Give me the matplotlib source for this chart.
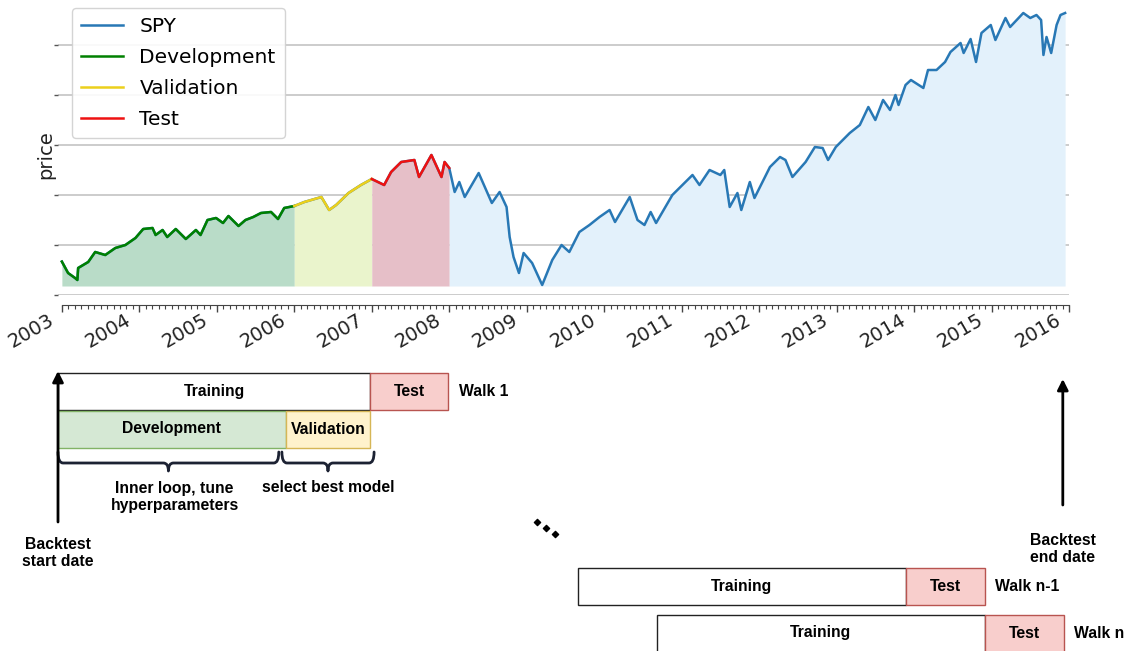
import matplotlib.pyplot as plt
from matplotlib.path import Path
from matplotlib.patches import PathPatch
from matplotlib.ticker import MultipleLocator
from matplotlib.transforms import ScaledTranslation


# SPY price (decimal year, price)
dates = [2003.00, 2003.08, 2003.17, 2003.20, 2003.21, 2003.34, 2003.43, 2003.56, 2003.69, 2003.82, 2003.95,
         2004.05, 2004.17, 2004.21, 2004.30, 2004.36, 2004.47, 2004.60, 2004.73, 2004.79, 2004.88, 2004.99,
         2005.08, 2005.15, 2005.28, 2005.37, 2005.47, 2005.57, 2005.70, 2005.79, 2005.87, 2006.00,
         2006.13, 2006.35, 2006.45, 2006.54, 2006.70, 2006.86, 2007.00,
         2007.16, 2007.25, 2007.38, 2007.55, 2007.61, 2007.77, 2007.90, 2007.94, 2008.00,
         2008.07, 2008.13, 2008.20, 2008.38, 2008.46, 2008.55, 2008.65, 2008.74, 2008.78, 2008.83, 2008.90, 2008.96,
         2009.07, 2009.20, 2009.33, 2009.45, 2009.55, 2009.68, 2009.81, 2009.94,
         2010.07, 2010.14, 2010.33, 2010.43, 2010.52, 2010.60, 2010.67, 2010.88,
         2011.14, 2011.23, 2011.36, 2011.50, 2011.55, 2011.62, 2011.72, 2011.77, 2011.88, 2011.94,
         2012.14, 2012.27, 2012.34, 2012.43, 2012.60, 2012.72, 2012.82, 2012.89, 2012.99,
         2013.17, 2013.30, 2013.41, 2013.50, 2013.60, 2013.69, 2013.76, 2013.80, 2013.89, 2013.96,
         2014.12, 2014.18, 2014.29, 2014.40, 2014.47, 2014.60, 2014.64, 2014.73, 2014.80, 2014.87, 2014.99,
         2015.05, 2015.18, 2015.24, 2015.41, 2015.50, 2015.58, 2015.64, 2015.67, 2015.71, 2015.77, 2015.84,
         2015.89, 2015.95]
prices = [66.7, 61.0, 58.5, 57.5, 63.5, 66.5, 71.5, 70.0, 73.5, 75.0, 78.5,
          83.0, 83.5, 80.0, 82.5, 79.0, 83.0, 78.0, 82.5, 80.0, 87.5, 88.5,
          86.0, 89.5, 84.5, 87.5, 89.0, 91.0, 91.5, 88.0, 93.5, 94.5,
          96.5, 99.0, 92.5, 95.0, 101.0, 105.0, 108.0,
          105.0, 111.5, 116.5, 117.5, 109.0, 120.0, 109.0, 116.5, 113.5,
          101.5, 106.5, 99.0, 111.0, 104.0, 96.0, 101.5, 94.0, 79.0, 69.0, 61.0, 71.0,
          66.0, 55.0, 67.5, 75.0, 71.5, 81.5, 85.0, 89.0,
          92.5, 86.5, 99.0, 87.5, 85.0, 91.5, 86.0, 100.0,
          110.0, 105.0, 112.5, 110.0, 112.5, 94.0, 101.0, 92.5, 106.5, 98.5,
          114.0, 119.0, 117.5, 109.0, 116.5, 124.0, 123.5, 117.5, 124.0,
          131.0, 135.0, 144.0, 137.5, 147.5, 142.5, 150.0, 145.0, 155.0, 157.5,
          153.5, 162.5, 162.5, 166.5, 171.5, 176.0, 171.0, 178.0, 166.5, 181.0, 185.0,
          177.5, 188.5, 184.0, 191.0, 188.5, 190.0, 187.5, 170.0, 179.0, 171.0, 185.0,
          190.0, 191.0]

val_start, test_start, test_end = 2006.0, 2007.0, 2008.0
fill_base = 54.5
year_ticks = list(range(2003, 2017))
price_grid = [50, 75, 100, 125, 150, 175]

# walk-forward schematic (decimal years)
walk_names = ['Walk 1', 'Walk n-1', 'Walk n']
walk_train_start = [2002.95, 2009.66, 2010.68]
walk_test_start = [2006.98, 2013.89, 2014.91]
walk_test_end = [2007.99, 2014.91, 2015.93]
dev_end = 2005.89
backtest_start, backtest_end = 2002.95, 2015.92


def segment(lo, hi):
    idx = [i for i, d in enumerate(dates) if lo <= d <= hi]
    return [dates[i] for i in idx], [prices[i] for i in idx]


def brace(ax, x0, x1, y0, y1, tip):
    r = 5 / 77.5
    xm = (x0 + x1) / 2
    verts = [(x0, y0), (x0, y1), (x0 + r, y1), (xm - r, y1), (xm, y1), (xm, tip),
             (xm, y1), (xm + r, y1), (x1 - r, y1), (x1, y1), (x1, y0)]
    codes = [Path.MOVETO, Path.CURVE3, Path.CURVE3, Path.LINETO, Path.CURVE3, Path.CURVE3,
             Path.CURVE3, Path.CURVE3, Path.LINETO, Path.CURVE3, Path.CURVE3]
    ax.add_patch(PathPatch(Path(verts, codes), fill=False, lw=2, ec='#1c2233',
                           capstyle='round', joinstyle='round', clip_on=False))


W, H = 1135, 651
fig = plt.figure(figsize=(W / 100, H / 100), dpi=100)

# ---- price chart ----
ax = fig.add_axes([58 / W, 1 - 295 / H, 1011 / W, 292 / H])

# spines first: set_position resets the ticks
for s in ['top', 'right', 'left']:
    ax.spines[s].set_visible(False)
ax.spines['bottom'].set_position(('outward', 7))
ax.spines['bottom'].set_bounds(2003, 2016)
ax.spines['bottom'].set_color('#444444')

ax.plot(dates, prices, color='#2878b5', lw=1.8, label='SPY', zorder=3)
segs = [(2003.0, val_start, 'green', '#b9dcc8', 'Development'),
        (val_start, test_start, '#ecd01c', '#eaf4cc', 'Validation'),
        (test_start, test_end, '#ee1111', '#e6bfc8', 'Test')]
for lo, hi, lc, fc, name in segs:
    x, y = segment(lo, hi)
    ax.plot(x, y, color=lc, lw=1.8, label=name, zorder=4)
    ax.fill_between(x, fill_base, y, color=fc, lw=0, zorder=1)
x, y = segment(test_end, 2100)
ax.fill_between(x, fill_base, y, color='#e3f1fb', lw=0, zorder=1)

ax.set_xlim(2002.95, 2016.0)
ax.set_ylim(50, 196)
ax.set_xticks(year_ticks)
ax.xaxis.set_minor_locator(MultipleLocator(1 / 12))
ax.tick_params(axis='x', which='major', length=5, width=1, color='#444444', pad=-1,
               labelsize=14, labelcolor='#222222', labelrotation=30)
ax.tick_params(axis='x', which='minor', length=3, width=0.8, color='#444444')
ax.set_xticklabels([str(t) for t in year_ticks], ha='right')
ax.set_yticks(price_grid)
ax.set_yticklabels([])
ax.tick_params(axis='y', length=3, width=1, color='#555555')
ax.grid(axis='y', color='#c8c8c8', lw=1.3)
ax.set_axisbelow(True)
ax.set_ylabel('price', fontsize=14, color='#222222')
ax.yaxis.set_label_coords(-0.003, 0.48)

leg = ax.legend(loc='upper left', bbox_to_anchor=(72 / W, 1 - 8 / H), bbox_transform=fig.transFigure,
                borderaxespad=0, fontsize=14.5, handlelength=2.1, handletextpad=0.8,
                labelspacing=0.6, borderpad=0.45, framealpha=0.9, edgecolor='#d0d0d0')
for line in leg.get_lines():
    line.set_linewidth(1.8)

# ---- walk-forward diagram ----
dx = fig.add_axes([58 / W, 0, 1011 / W, 291 / H])
dx.set_xlim(2002.95, 2016.0)
dx.set_ylim(651, 360)
dx.axis('off')

row_y = [391.5, 586.5, 633]
bh = 37
txt = dict(fontsize=11.3, fontweight='bold', family='Liberation Sans', color='black',
           ha='center', va='center')
for name, y, t0, t1, t2 in zip(walk_names, row_y, walk_train_start, walk_test_start, walk_test_end):
    dx.barh(y, t1 - t0, left=t0, height=bh, color='white', edgecolor='#222222', lw=1)
    dx.barh(y, t2 - t1, left=t1, height=bh, color='#f8cecc', edgecolor='#b85450', lw=1)
    dx.text((t0 + t1) / 2, y, 'Training', **txt)
    dx.text((t1 + t2) / 2, y, 'Test', **txt)
    dx.text(t2 + 0.14, y, name, **{**txt, 'ha': 'left'})

dev_y = 429
dx.barh(dev_y, dev_end - walk_train_start[0], left=walk_train_start[0], height=bh,
        color='#d5e8d4', edgecolor='#82b366', lw=1)
dx.barh(dev_y, walk_test_start[0] - dev_end, left=dev_end, height=bh,
        color='#fff2cc', edgecolor='#d6b656', lw=1)
dx.text((walk_train_start[0] + dev_end) / 2, dev_y, 'Development', **txt)
dx.text((dev_end + walk_test_start[0]) / 2, dev_y, 'Validation', **txt)

b1 = (walk_train_start[0], dev_end - 0.09)
b2 = (dev_end - 0.05, walk_test_start[0] + 0.05)
brace(dx, b1[0], b1[1], 452, 463, 471)
brace(dx, b2[0], b2[1], 452, 463, 471)
dx.text(sum(b1) / 2 + 0.08, 497, 'Inner loop, tune\nhyperparameters', **txt)
dx.text(sum(b2) / 2, 488, 'select best model', **txt)

arrow = dict(arrowstyle='-|>', lw=2, color='black', mutation_scale=16, shrinkA=0, shrinkB=0)
dx.annotate('', xy=(backtest_start, 371), xytext=(backtest_start, 522), arrowprops=arrow,
            annotation_clip=False)
dx.annotate('', xy=(backtest_end, 379), xytext=(backtest_end, 505), arrowprops=arrow,
            annotation_clip=False)
dx.text(backtest_start, 553, 'Backtest\nstart date', **txt)
dx.text(backtest_end, 549, 'Backtest\nend date', **txt)

dot_x = [walk_train_start[1] - 0.53, walk_train_start[1] - 0.41, walk_train_start[1] - 0.30]
dx.scatter(dot_x, [522, 528, 534], marker='D', s=10, color='black', clip_on=False)

# nudge the year labels a little left of their ticks
shift = ScaledTranslation(-5 / 100, 0, fig.dpi_scale_trans)
for lab in ax.get_xticklabels():
    lab.set_transform(lab.get_transform() + shift)

fig.savefig('out.png', dpi=100)
